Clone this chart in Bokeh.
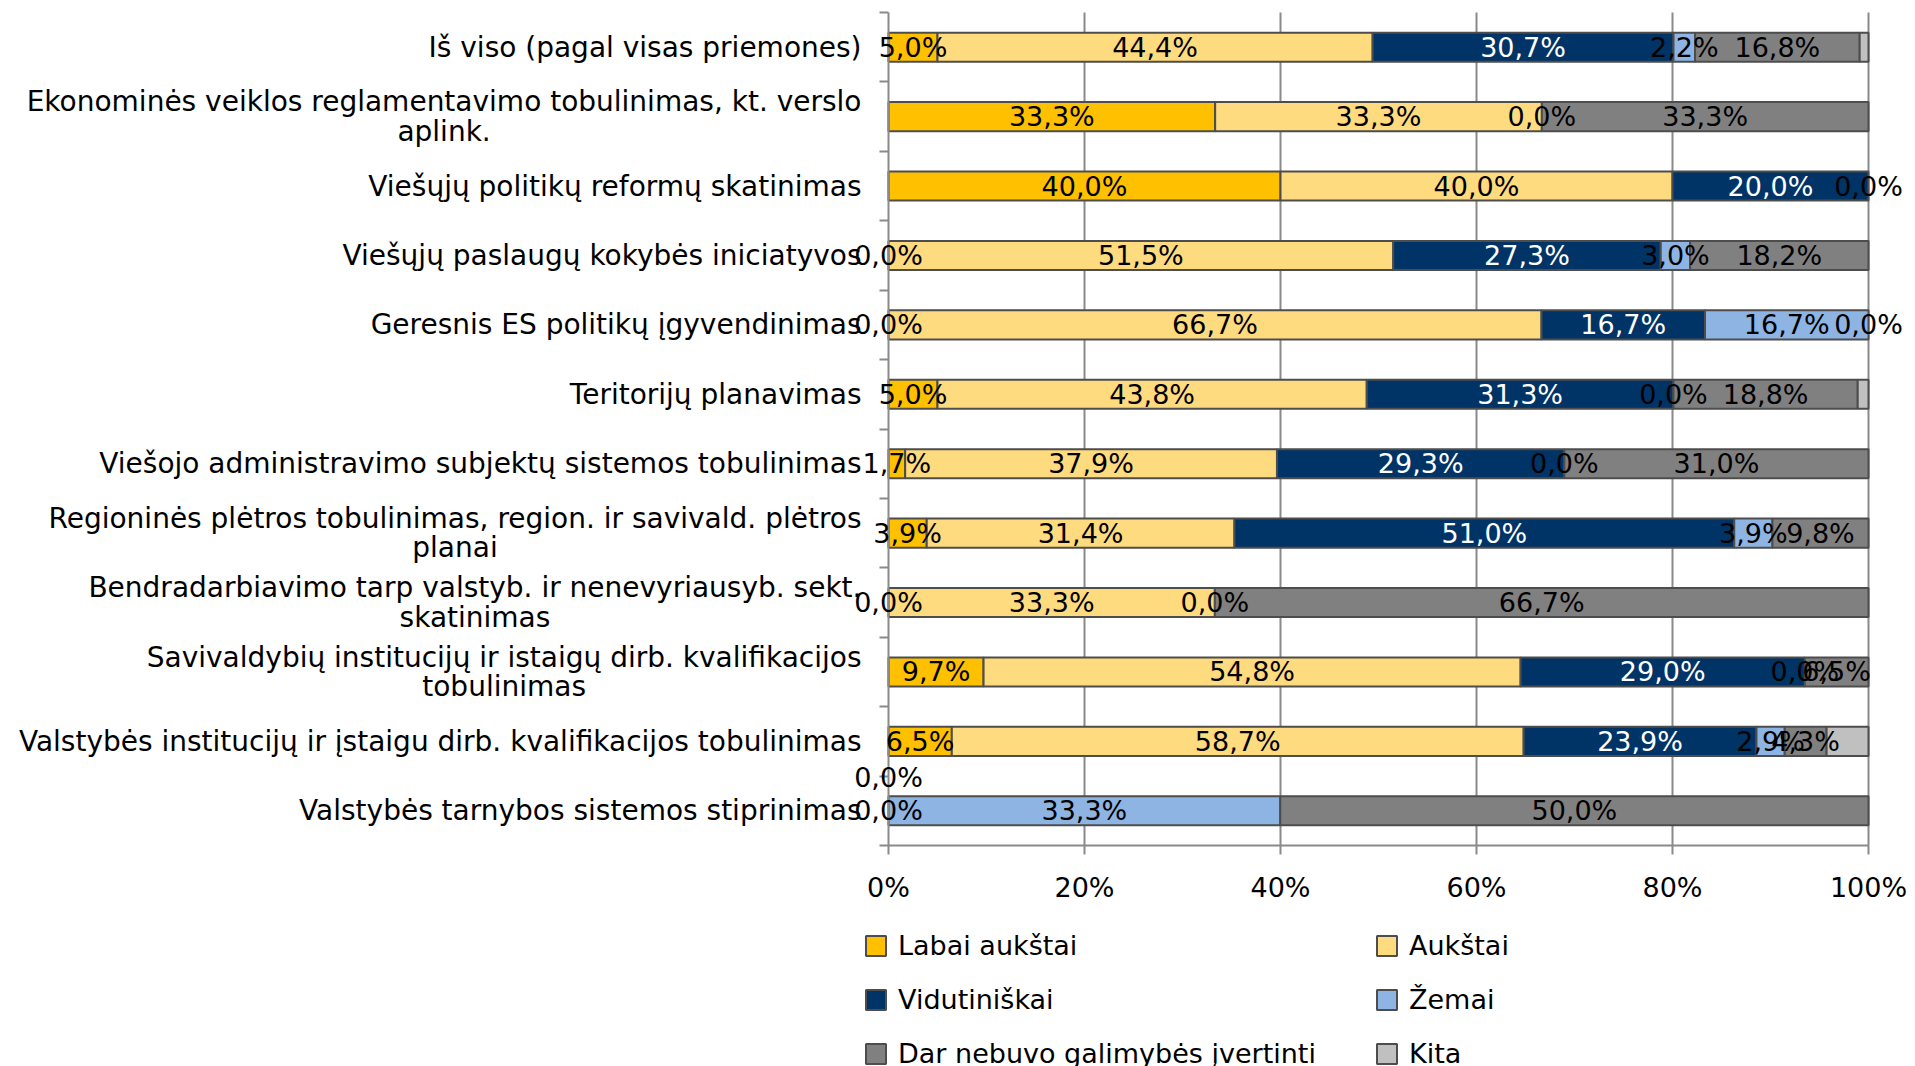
from bokeh.plotting import figure
from bokeh.models import (ColumnDataSource, FixedTicker, NumeralTickFormatter, LabelSet,
                          Label, Legend, LegendItem, Range1d)
from bokeh.core.properties import value
from bokeh.embed import file_html
from bokeh.resources import INLINE

# ---------------- data ----------------
categories = [
    "Iš viso (pagal visas priemones)",
    "Ekonominės veiklos reglamentavimo tobulinimas, kt. verslo\naplink.",
    "Viešųjų politikų reformų skatinimas",
    "Viešųjų paslaugų kokybės iniciatyvos",
    "Geresnis ES politikų įgyvendinimas",
    "Teritorijų planavimas",
    "Viešojo administravimo subjektų sistemos tobulinimas",
    "Regioninės plėtros tobulinimas, region. ir savivald. plėtros\nplanai",
    "Bendradarbiavimo tarp valstyb. ir nenevyriausyb. sekt.\nskatinimas",
    "Savivaldybių institucijų ir istaigų dirb. kvalifikacijos\ntobulinimas",
    "Valstybės institucijų ir įstaigu dirb. kvalifikacijos tobulinimas",
    "Valstybės tarnybos sistemos stiprinimas",
]

series_names = ["Labai aukštai", "Aukštai", "Vidutiniškai", "Žemai",
                "Dar nebuvo galimybės įvertinti", "Kita"]

labai_aukstai = [5.0, 33.3, 40.0, 0.0, 0.0, 5.0, 1.7, 3.9, 0.0, 9.7, 6.5, 0.0]
aukstai       = [44.4, 33.3, 40.0, 51.5, 66.7, 43.8, 37.9, 31.4, 33.3, 54.8, 58.7, 0.0]
vidutiniskai  = [30.7, None, 20.0, 27.3, 16.7, 31.3, 29.3, 51.0, None, 29.0, 23.9, None]
zemai         = [2.2, 0.0, None, 3.0, 16.7, 0.0, 0.0, 3.9, 0.0, 0.0, 2.9, 33.3]
dar_nebuvo    = [16.8, 33.3, 0.0, 18.2, 0.0, 18.8, 31.0, 9.8, 66.7, 6.5, 4.3, 50.0]
kita          = [0.9, None, None, None, None, 1.1, None, None, None, None, 4.3, None]

series_values = [labai_aukstai, aukstai, vidutiniskai, zemai, dar_nebuvo, kita]
series_labeled = [True, True, True, True, True, False]

x_ticks = [0, 0.2, 0.4, 0.6, 0.8, 1.0]

# ---------------- style / layout ----------------
colors = ["#FFC000", "#FFDB80", "#003366", "#8EB4E3", "#808080", "#C0C0C0"]
label_colors = ["black", "black", "white", "black", "black", "black"]
FONT = "DejaVu Sans"
GRID = "#8A8A8A"
EDGE = "#4D4D4D"

W, H = 1907, 1066
n = len(categories)
# pixel box of the bar area inside the canvas
BOX_L, BOX_R, BOX_T, BOX_B = 888, 1868, 12, 845
ppx = (BOX_R - BOX_L) / 1.0
ppy = (BOX_B - BOX_T) / n

p = figure(width=W, height=H, output_backend="svg", toolbar_location=None,
           x_range=Range1d(-BOX_L / ppx, (W - BOX_L) / ppx),
           y_range=Range1d(-(H - BOX_B) / ppy, n + BOX_T / ppy),
           min_border=0, min_border_left=0, min_border_right=0,
           min_border_top=0, min_border_bottom=0)
p.outline_line_color = None
p.background_fill_color = "white"
p.xgrid.visible = False
p.ygrid.visible = False

# gridlines (vertical, across the bar area only)
p.segment(x0=x_ticks[1:], x1=x_ticks[1:], y0=[0] * 5, y1=[n] * 5,
          line_color=GRID, line_width=2)

# axes fixed at the bar-area edges
p.xaxis.fixed_location = 0
p.xaxis.bounds = (0, 1)
p.xaxis.ticker = FixedTicker(ticks=x_ticks)
p.xaxis.formatter = NumeralTickFormatter(format="0%")
p.xaxis.axis_line_color = GRID
p.xaxis.axis_line_width = 2
p.xaxis.major_tick_line_color = GRID
p.xaxis.major_tick_line_width = 2
p.xaxis.major_tick_out = 9
p.xaxis.major_tick_in = 0
p.xaxis.minor_tick_line_color = None
p.xaxis.major_label_text_font = FONT
p.xaxis.major_label_text_font_size = "27px"
p.xaxis.major_label_text_color = "black"
p.xaxis.major_label_standoff = 17

p.yaxis.fixed_location = 0
p.yaxis.bounds = (0, n)
p.yaxis.ticker = FixedTicker(ticks=list(range(n + 1)))
p.yaxis.major_label_overrides = {k: "" for k in range(n + 1)}
p.yaxis.axis_line_color = GRID
p.yaxis.axis_line_width = 2
p.yaxis.major_tick_line_color = GRID
p.yaxis.major_tick_line_width = 2
p.yaxis.major_tick_out = 9
p.yaxis.major_tick_in = 0
p.yaxis.minor_tick_line_color = None

# ---------------- bars and labels ----------------
bar_data = [dict(y=[], left=[], right=[]) for _ in series_names]
lab = dict(x=[], y=[], text=[], color=[], dy=[])

for i in range(n):
    row = [s[i] for s in series_values]
    total = sum(v for v in row if v is not None)
    yc = n - i - 0.5
    cum = 0.0
    seen = []
    for s, v in enumerate(row):
        if v is None:
            continue
        left = cum / total
        cum += v
        right = cum / total
        if v > 0:
            bar_data[s]["y"].append(yc)
            bar_data[s]["left"].append(left)
            bar_data[s]["right"].append(right)
        if series_labeled[s]:
            xc = (left + right) / 2
            dup = any(abs(xc - q) < 1e-9 for q in seen)
            seen.append(xc)
            lab["x"].append(xc)
            lab["y"].append(yc)
            lab["text"].append(("%.1f%%" % v).replace(".", ","))
            lab["color"].append(label_colors[s])
            lab["dy"].append(33 if dup else 0)

renderers = []
for s, name in enumerate(series_names):
    src = ColumnDataSource(bar_data[s])
    r = p.hbar(y="y", left="left", right="right", height=0.42, source=src,
               fill_color=colors[s], line_color=EDGE, line_width=2)
    renderers.append(r)

labels = LabelSet(x="x", y="y", text="text", source=ColumnDataSource(lab),
                  text_color="color", y_offset="dy",
                  text_font=value(FONT), text_font_size=value("27px"),
                  text_align="center", text_baseline="middle")
p.add_layout(labels)

# category labels
for i, cat in enumerate(categories):
    yc = n - i - 0.5
    kw = dict(x=0, y=yc, text=cat, x_offset=-27, text_font=FONT,
              text_font_size="28px", text_color="black",
              text_baseline="middle", text_line_height=0.89)
    if "\n" in cat:
        try:
            lbl = Label(text_align="center", anchor="center_right", **kw)
        except Exception:
            lbl = Label(text_align="right", **kw)
    else:
        lbl = Label(text_align="right", **kw)
    p.add_layout(lbl)

# legends (two columns, row-major order)
def make_legend(idx, x):
    items = [LegendItem(label=series_names[k], renderers=[renderers[k]]) for k in idx]
    return Legend(items=items, location=(x, -3), orientation="vertical",
                  glyph_width=25, glyph_height=25, label_standoff=10,
                  label_height=32, spacing=22, padding=0, margin=0,
                  border_line_color=None, background_fill_alpha=0,
                  label_text_font=FONT, label_text_font_size="27px",
                  label_text_color="black")

p.add_layout(make_legend([0, 2, 4], 863))
p.add_layout(make_legend([1, 3, 5], 1374))

open("out.html", "w").write(file_html(p, INLINE))
